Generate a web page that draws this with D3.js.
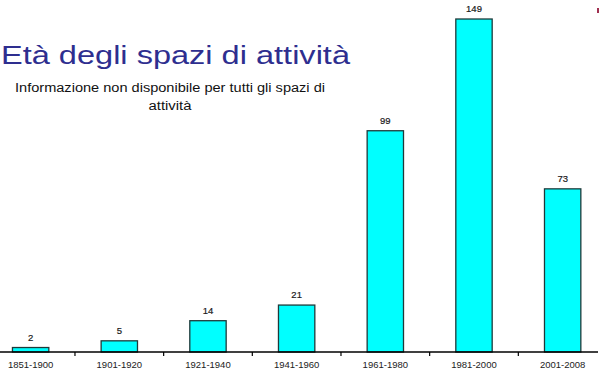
<!DOCTYPE html>
<html>
<head>
<meta charset="utf-8">
<script src="https://cdn.jsdelivr.net/npm/d3@7"></script>
<style>
  body { margin: 0; background: #fff; }
  svg { display: block; font-family: "Liberation Sans", Arial, sans-serif; }
</style>
</head>
<body>
<div id="chart"></div>
<script>
const categories = ['1851-1900', '1901-1920', '1921-1940', '1941-1960', '1961-1980', '1981-2000', '2001-2008']
const values = [2, 5, 14, 21, 99, 149, 73]
const title = 'Età degli spazi di attività'
const subtitle = ['Informazione non disponibile per tutti gli spazi di', 'attività']

const width = 600, height = 381
const margin = { left: -13.7, right: -7, bottom: 352, top: 19 }

const svg = d3.select('#chart').append('svg')
  .attr('width', width)
  .attr('height', height)
  .attr('viewBox', [0, 0, width, height])

const x = d3.scaleBand()
  .domain(categories)
  .range([margin.left, width - margin.right])
  .paddingInner(0.59)
  .paddingOuter(0.295)

const y = d3.scaleLinear()
  .domain([0, 149])
  .range([margin.bottom, margin.top])

// bars
svg.append('g').attr('class', 'bars')
  .selectAll('rect')
  .data(values)
  .join('rect')
    .attr('x', (d, i) => x(categories[i]))
    .attr('y', d => y(d))
    .attr('width', x.bandwidth())
    .attr('height', d => y(0) - y(d))
    .attr('fill', '#00ffff')
    .attr('stroke', '#1f3a3a')
    .attr('stroke-width', 1.3)

// value labels
svg.append('g').attr('class', 'values')
  .selectAll('text')
  .data(values)
  .join('text')
    .attr('x', (d, i) => x(categories[i]) + x.bandwidth() / 2)
    .attr('y', d => y(d) - 7)
    .attr('text-anchor', 'middle')
    .attr('font-size', 9.5)
    .attr('fill', '#1a1a1a')
    .attr('stroke', '#1a1a1a')
    .attr('stroke-width', 0.2)
    .text(d => d)

// x axis
const xAxis = svg.append('g').attr('class', 'axis x')
  .attr('transform', `translate(0, ${y(0)})`)
  .call(d3.axisBottom(x).tickSize(0).tickPadding(9))
xAxis.select('.domain').remove()
xAxis.selectAll('.tick text')
  .attr('font-size', 9.5)
  .attr('font-family', '"Liberation Sans", Arial, sans-serif')
  .attr('fill', '#222')

xAxis.append('line')
  .attr('x1', 0).attr('x2', 598)
  .attr('stroke', '#000').attr('stroke-width', 1.5)

xAxis.selectAll('.sep')
  .data(categories.slice(1))
  .join('line')
    .attr('class', 'sep')
    .attr('x1', d => x(d) - x.step() * x.paddingInner() / 2)
    .attr('x2', d => x(d) - x.step() * x.paddingInner() / 2)
    .attr('y1', 0).attr('y2', 4)
    .attr('stroke', '#000').attr('stroke-width', 1.2)

// titles
svg.append('text')
  .attr('x', 1).attr('y', 64)
  .attr('font-size', 25.5)
  .attr('textLength', 349)
  .attr('lengthAdjust', 'spacingAndGlyphs')
  .attr('fill', '#2e2e8f')
  .text(title)

svg.append('g').attr('class', 'subtitle')
  .selectAll('text')
  .data(subtitle)
  .join('text')
    .attr('x', 170)
    .attr('y', (d, i) => 92 + i * 17.5)
    .attr('text-anchor', 'middle')
    .attr('font-size', 12.5)
    .attr('textLength', (d, i) => i === 0 ? 310 : 43)
    .attr('lengthAdjust', 'spacingAndGlyphs')
    .attr('fill', '#111')
    .text(d => d)

// small stray mark top right
svg.append('rect')
  .attr('x', 597).attr('y', 8).attr('width', 2).attr('height', 5)
  .attr('fill', '#a03050')
</script>
</body>
</html>
